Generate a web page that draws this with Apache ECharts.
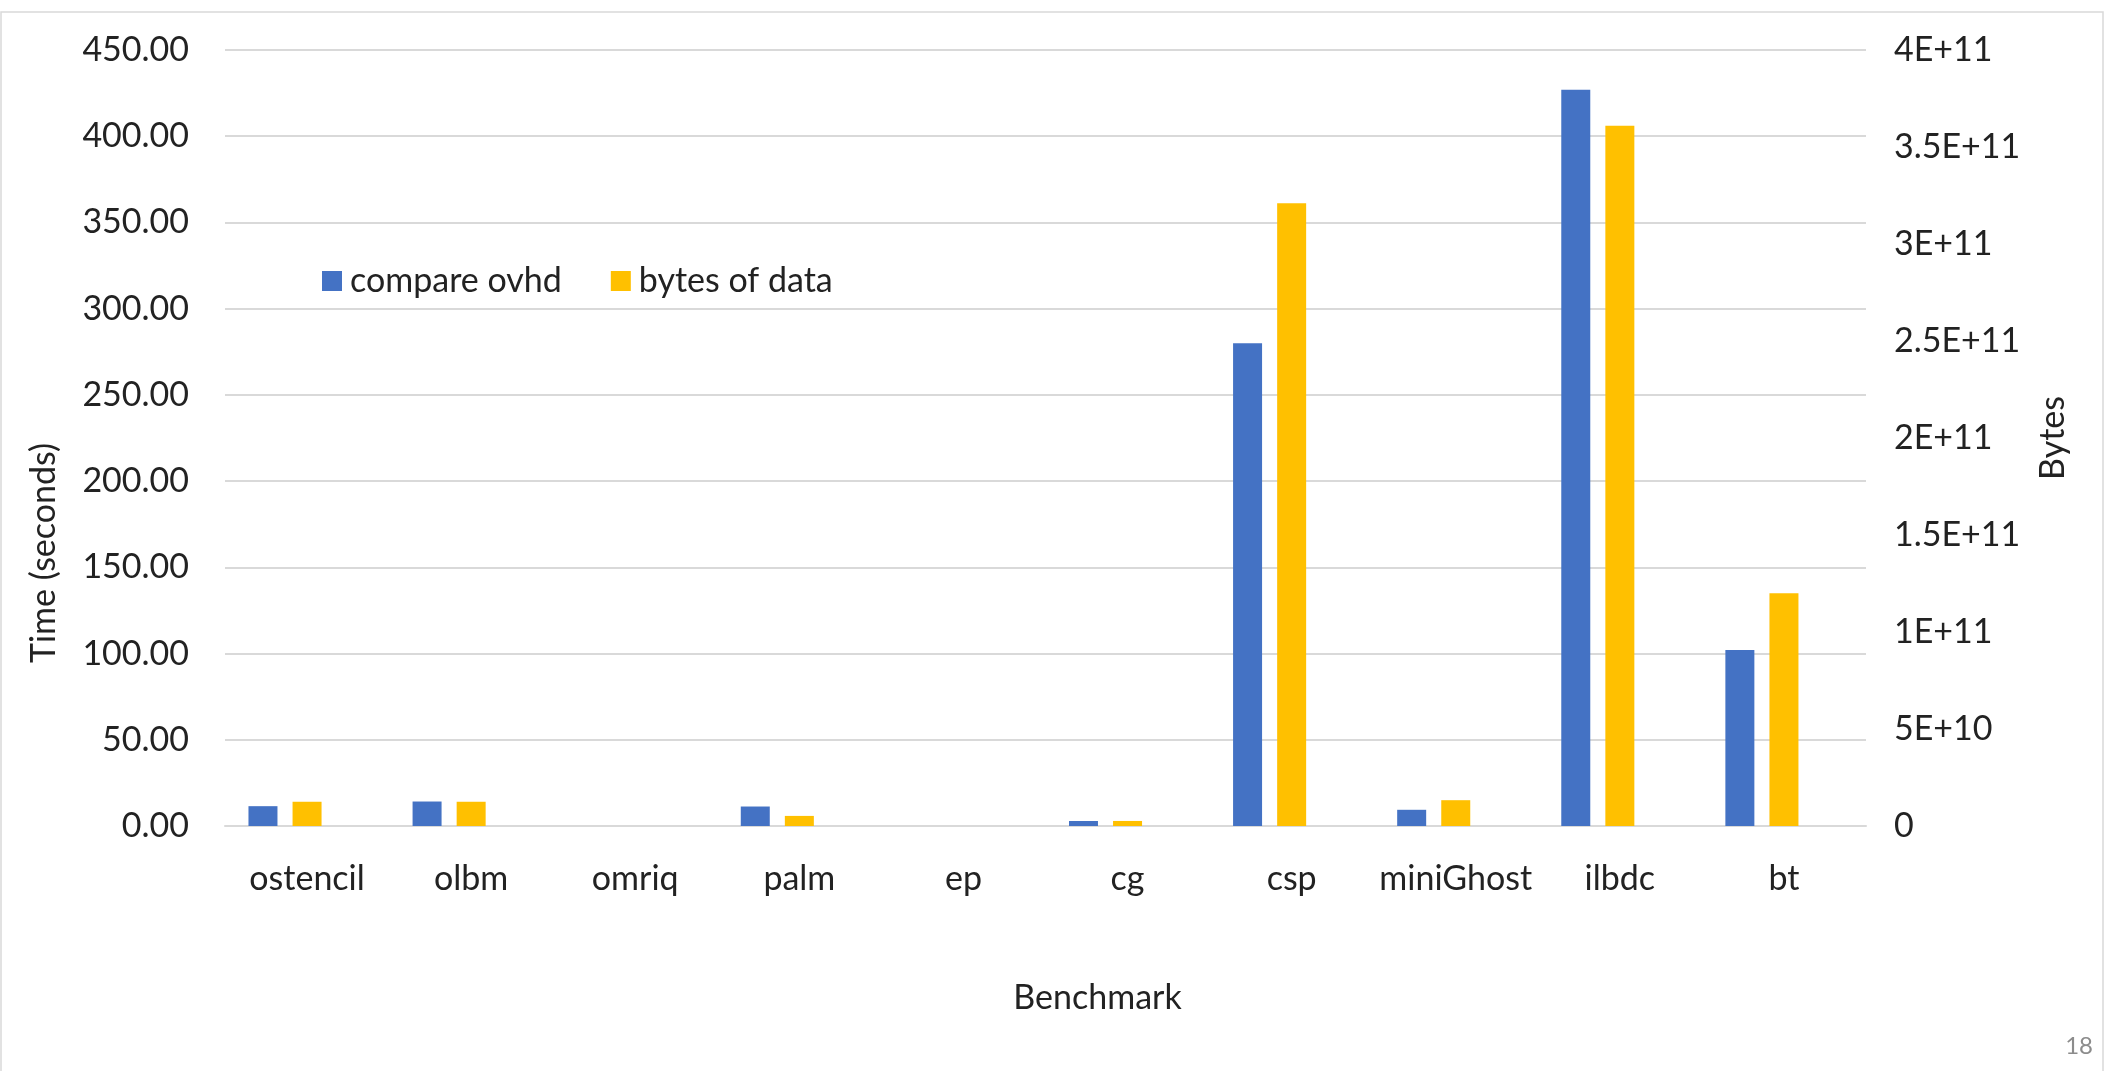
<!DOCTYPE html>
<html>
<head>
<meta charset="utf-8">
<title>Benchmark compare overhead</title>
<script src="https://cdn.jsdelivr.net/npm/echarts@6/dist/echarts.min.js"></script>
<style>
  html, body { margin: 0; padding: 0; background: #fff; }
  #chart { width: 2105px; height: 1071px; }
</style>
</head>
<body>
<div id="chart"></div>
<script>
// Benchmarks on the category axis
const benchmarks = ['ostencil', 'olbm', 'omriq', 'palm', 'ep', 'cg', 'csp', 'miniGhost', 'ilbdc', 'bt'];

// Compare overhead, seconds (left axis)
const compareOvhd = [11.5, 14.2, 0, 11.3, 0, 2.9, 280, 9.4, 427, 102];

// Bytes of data compared (right axis)
const bytesOfData = [1.25e10, 1.25e10, 0, 5.2e9, 0, 2.6e9, 3.21e11, 1.33e10, 3.61e11, 1.2e11];

// Third, empty slot in each category group (reserved but unused)
const emptySlot = benchmarks.map(() => null);

const seriesNames = ['compare ovhd', 'bytes of data'];

const textColor = '#222222';
const fontFamily = 'Lato, "Open Sans", sans-serif';
const fontSize = 34;

const chart = echarts.init(document.getElementById('chart'), null, { renderer: 'canvas' });

chart.setOption({
  backgroundColor: '#ffffff',
  animation: false,
  textStyle: { fontFamily: fontFamily, color: textColor },
  grid: { left: 225, right: 239, top: 50, bottom: 245, containLabel: false },
  legend: {
    data: seriesNames,
    left: 317,
    top: 259,
    itemWidth: 20,
    itemHeight: 20,
    itemGap: 49,
    icon: 'rect',
    textStyle: { fontSize: fontSize, color: textColor, fontFamily: fontFamily, padding: [0, 0, 0, 3] }
  },
  xAxis: {
    type: 'category',
    data: benchmarks,
    name: 'Benchmark',
    nameLocation: 'middle',
    nameGap: 155,
    nameTextStyle: { fontSize: fontSize, color: textColor, padding: [0, 0, 0, 104] },
    axisLine: { show: true, lineStyle: { color: '#d9d9d9', width: 2 } },
    axisTick: { show: false },
    axisLabel: { fontSize: fontSize, color: textColor, margin: 36, interval: 0 }
  },
  yAxis: [
    {
      type: 'value',
      min: 0,
      max: 450,
      interval: 50,
      name: 'Time (seconds)',
      nameLocation: 'middle',
      nameRotate: 90,
      nameGap: 164,
      nameTextStyle: { fontSize: fontSize, color: textColor, padding: [0, 230, 0, 0] },
      axisLine: { show: false },
      axisTick: { show: false },
      axisLabel: {
        fontSize: fontSize,
        color: textColor,
        margin: 36,
        formatter: v => v.toFixed(2)
      },
      splitLine: { show: true, lineStyle: { color: '#d9d9d9', width: 2 } }
    },
    {
      type: 'value',
      min: 0,
      max: 4e11,
      interval: 5e10,
      position: 'right',
      name: 'Bytes',
      nameLocation: 'middle',
      nameRotate: 90,
      nameGap: 170,
      nameTextStyle: { fontSize: fontSize, color: textColor },
      axisLine: { show: false },
      axisTick: { show: false },
      axisLabel: {
        fontSize: fontSize,
        color: textColor,
        margin: 28,
        formatter: v => (v === 0 ? '0' : v.toExponential().toUpperCase())
      },
      splitLine: { show: false }
    }
  ],
  series: [
    {
      name: seriesNames[0],
      type: 'bar',
      yAxisIndex: 0,
      data: compareOvhd,
      barWidth: 29,
      barGap: '52%',
      itemStyle: { color: '#4472C4' }
    },
    {
      name: seriesNames[1],
      type: 'bar',
      yAxisIndex: 1,
      data: bytesOfData,
      barWidth: 29,
      barGap: '52%',
      itemStyle: { color: '#FFC000' }
    },
    {
      name: 'reserved',
      type: 'bar',
      yAxisIndex: 0,
      data: emptySlot,
      barWidth: 29,
      barGap: '52%',
      itemStyle: { color: 'rgba(0,0,0,0)' }
    }
  ],
  graphic: [
    {
      type: 'rect',
      silent: true,
      shape: { x: 1, y: 12, width: 2102, height: 1070 },
      style: { fill: 'none', stroke: '#d9d9d9', lineWidth: 1.5 }
    },
    {
      type: 'text',
      silent: true,
      right: 12,
      top: 1034,
      style: { text: '18', fontSize: 24, fill: '#8c8c8c', fontFamily: fontFamily }
    }
  ]
});
</script>
</body>
</html>
